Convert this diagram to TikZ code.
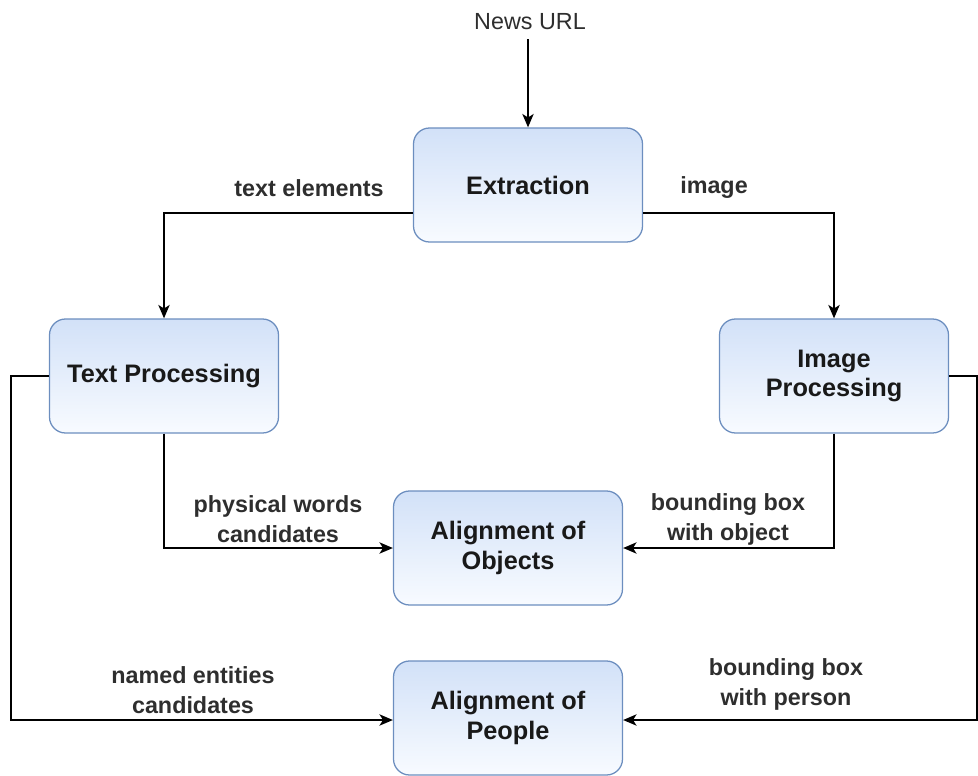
\documentclass[tikz,border=0pt]{standalone}
\usepackage{fontspec}
\setmainfont{Liberation Sans}
\usetikzlibrary{arrows.meta}
\definecolor{boxtop}{HTML}{D2E1F8}
\definecolor{boxbot}{HTML}{F8FBFF}
\definecolor{boxline}{HTML}{6C8EBF}
\definecolor{labelgray}{HTML}{2E2E2E}
\begin{document}
\begin{tikzpicture}[
    block/.style={rectangle, draw=boxline, line width=0.9pt, top color=boxtop, bottom color=boxbot, rounded corners=0.4cm, minimum width=5.725cm, minimum height=2.85cm, align=center, font=\fontsize{18}{21.3}\selectfont\bfseries, text=black!90},
    lbl/.style={align=center, font=\fontsize{16.6}{21.3}\selectfont\bfseries, text=labelgray},
    arrow/.style={-{Stealth[length=9.5pt,width=8pt,inset=2.5pt]}, line width=1.5pt}
]
    \useasboundingbox (0,0) rectangle (24.45,-19.4);

    % Input
    \node[font=\fontsize{16.6}{20}\selectfont, text=labelgray] (url) at (13.25,-0.55) {News URL};

    % Processing blocks
    \node[block] (extract) at (13.2,-4.625) {Extraction};
    \node[block] (textp) at (4.1,-9.4) {Text Processing};
    \node[block] (imgp) at (20.85,-9.4) {Image\\Processing};

    % Alignment blocks
    \node[block] (objects) at (12.7,-13.7) {Alignment of\\Objects};
    \node[block] (people) at (12.7,-17.95) {Alignment of\\People};

    % Arrows from extraction
    \draw[arrow] (url.south) ++(-0.05,-0.1) -- (extract.north);
    \draw[arrow] ([yshift=-0.7cm]extract.west) -| (textp.north);
    \draw[arrow] ([yshift=-0.7cm]extract.east) -| (imgp.north);

    % Arrows to alignment of objects
    \draw[arrow] (textp.south) |- (objects.west);
    \draw[arrow] (imgp.south) |- (objects.east);

    % Arrows to alignment of people
    \draw[arrow] (textp.west) -- ++(-0.94,0) |- ([yshift=-0.05cm]people.west);
    \draw[arrow] (imgp.east) -- ++(0.71,0) |- ([yshift=-0.05cm]people.east);

    % Edge labels
    \node[lbl] (ltext) at (7.725,-4.7) {text elements};
    \node[lbl] (limg) at (17.85,-4.7) {image};
    \node[lbl] (lphys) at (6.95,-12.975) {physical words\\candidates};
    \node[lbl] (lobj) at (18.2,-12.975) {bounding box\\with object};
    \node[lbl] (lnamed) at (4.825,-17.25) {named entities\\candidates};
    \node[lbl] (lperson) at (19.65,-17.1) {bounding box\\with person};
\end{tikzpicture}
\end{document}
